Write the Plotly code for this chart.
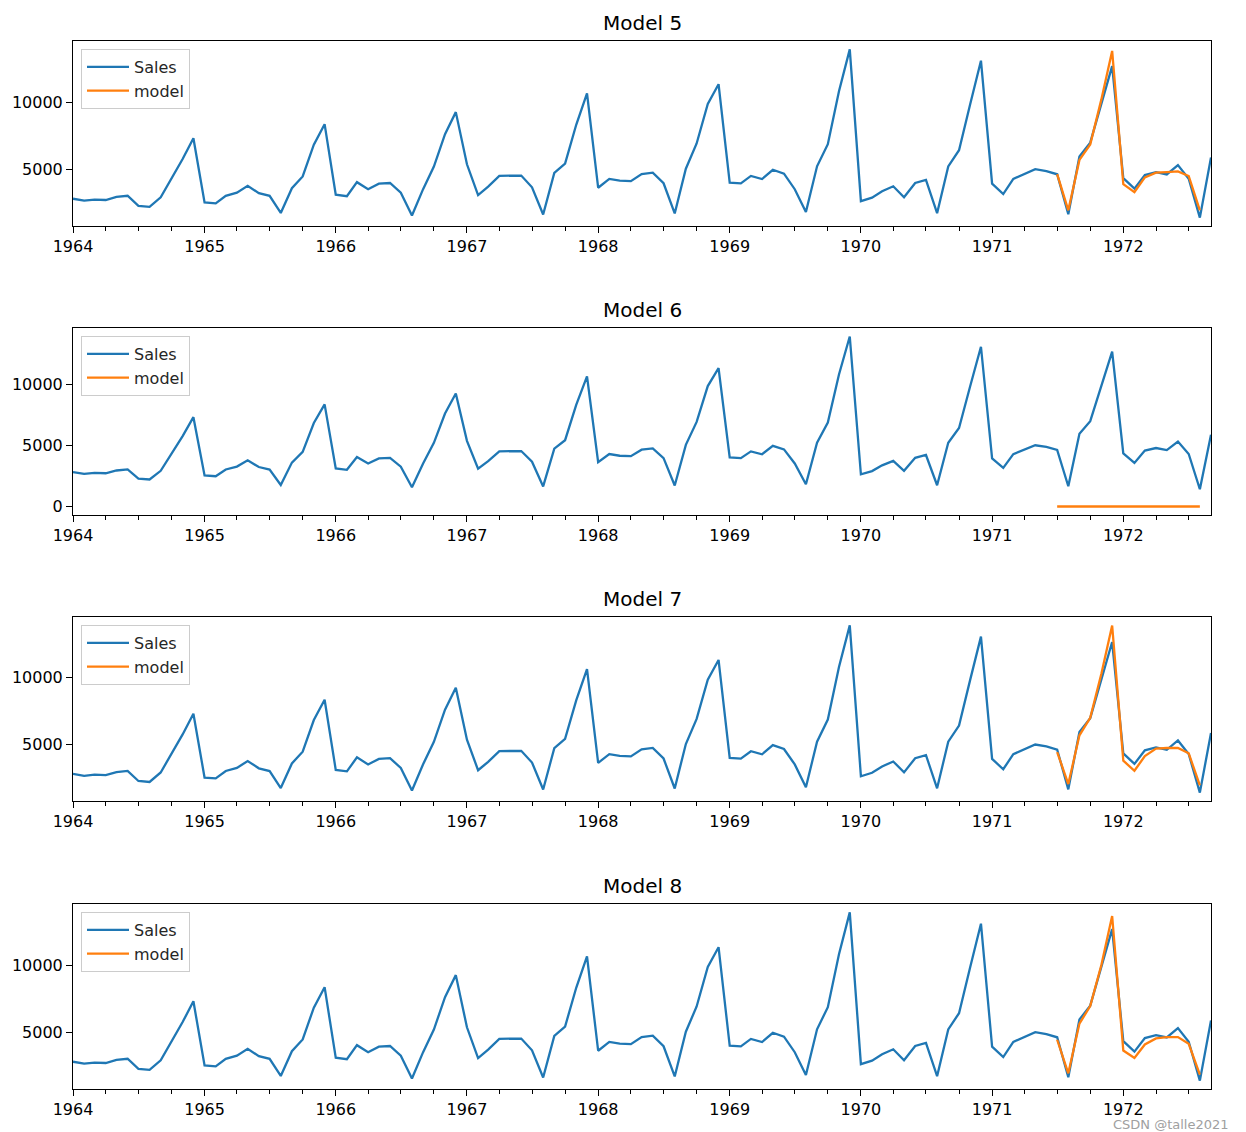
import plotly.graph_objects as go
import pandas as pd

# ---- data ----
months = pd.date_range("1964-01-01", "1972-09-01", freq="MS")
sales = [
    2815, 2672, 2755, 2721, 2946, 3036, 2282, 2212, 2922, 4301, 5764, 7312,
    2541, 2475, 3031, 3266, 3776, 3230, 3028, 1759, 3595, 4474, 6838, 8357,
    3113, 3006, 4047, 3523, 3937, 3986, 3260, 1573, 3528, 5211, 7614, 9254,
    5375, 3088, 3718, 4514, 4520, 4539, 3663, 1643, 4739, 5428, 8314, 10651,
    3633, 4292, 4154, 4121, 4647, 4753, 3965, 1723, 5048, 6922, 9858, 11331,
    4016, 3957, 4510, 4276, 4968, 4677, 3523, 1821, 5222, 6872, 10803, 13916,
    2639, 2899, 3370, 3740, 2927, 3986, 4217, 1738, 5221, 6424, 9842, 13076,
    3934, 3162, 4286, 4676, 5010, 4874, 4633, 1659, 5951, 6981, 9851, 12670,
    4348, 3564, 4577, 4788, 4618, 5312, 4298, 1413, 5877,
]
model_months = pd.date_range("1971-07-01", "1972-08-01", freq="MS")
model5 = [4650, 1950, 5700, 6850, 10200, 13800, 3900, 3300, 4400, 4750, 4800, 4850, 4500, 1950]
model6 = [0, 0, 0, 0, 0, 0, 0, 0, 0, 0, 0, 0, 0, 0]
model7 = [4450, 2050, 5700, 7000, 10300, 13900, 3800, 3050, 4150, 4700, 4750, 4750, 4350, 1950]
model8 = [4450, 1950, 5650, 6950, 10000, 13650, 3650, 3100, 4100, 4550, 4650, 4650, 4150, 1850]
titles = ["Model 5", "Model 6", "Model 7", "Model 8"]
models = [model5, model6, model7, model8]
ytick_sets = [[5000, 10000], [0, 5000, 10000], [5000, 10000], [5000, 10000]]
year_ticks = list(range(1964, 1973))

BLUE = "#1f77b4"
ORANGE = "#ff7f0e"
W, H = 1246, 1132
OFF = 8  # page body margin
# target plot-area pixel edges on the page
PL, PR, PT, PB = 73, 1211, 41, 1089
L = PL - OFF
T = PT - OFF
R = W + OFF - PR
B = H + OFF - PB
panel_px = [(41, 226), (328, 515), (617, 801), (904, 1089)]
plot_h = PB - PT
plot_w = PR - PL

def py(p):
    return (PB - p) / plot_h

def px(p):
    return (p - PL) / plot_w

fig = go.Figure()
layout = dict(
    width=W, height=H,
    margin=dict(l=L, r=R, t=T, b=B, autoexpand=False),
    plot_bgcolor="white", paper_bgcolor="white",
    font=dict(family="DejaVu Sans", size=16, color="black"),
    annotations=[],
)

for i, (title, mdl, yt) in enumerate(zip(titles, models, ytick_sets)):
    n = "" if i == 0 else str(i + 1)
    leg = "legend" + n
    xa = "x" + n
    ya = "y" + n
    fig.add_trace(go.Scatter(x=months, y=sales, mode="lines", name="Sales",
                             line=dict(color=BLUE, width=2.3),
                             xaxis=xa, yaxis=ya, legend=leg))
    fig.add_trace(go.Scatter(x=model_months, y=mdl, mode="lines", name="model",
                             line=dict(color=ORANGE, width=2.3),
                             xaxis=xa, yaxis=ya, legend=leg))
    lo = min(min(sales), min(mdl))
    hi = max(max(sales), max(mdl))
    d = hi - lo
    top, bot = panel_px[i]
    layout["xaxis" + n] = dict(
        domain=[0, 1], anchor=ya, automargin=False,
        range=["1964-01-01", "1972-09-01"],
        tickvals=[f"{y}-01-01" for y in year_ticks],
        ticktext=[str(y) for y in year_ticks],
        ticks="outside", ticklen=6, tickwidth=1, tickcolor="black",
        showline=True, linecolor="black", linewidth=1, mirror=True,
        showgrid=False, zeroline=False,
        minor=dict(dtick="M3", tick0="1964-01-01", ticks="outside", ticklen=3.5,
                   tickcolor="black", showgrid=False),
    )
    layout["yaxis" + n] = dict(
        domain=[py(bot), py(top)], anchor=xa, automargin=False,
        range=[lo - 0.05 * d, hi + 0.05 * d],
        tickvals=yt, ticktext=[str(v) for v in yt],
        ticks="outside", ticklen=6, tickwidth=1, tickcolor="black",
        showline=True, linecolor="black", linewidth=1, mirror=True,
        showgrid=False, zeroline=False,
    )
    layout[leg] = dict(
        x=px(81), y=py(top + 8), xanchor="left", yanchor="top",
        bgcolor="rgba(255,255,255,0.8)", bordercolor="#cccccc", borderwidth=1,
        font=dict(size=16, color="#262626"), tracegroupgap=0, itemwidth=42,
    )
    layout["annotations"].append(dict(
        text=title, x=0.5, y=py(top), xref="paper", yref="paper",
        xanchor="center", yanchor="bottom", yshift=4, showarrow=False,
        font=dict(size=20, color="black"),
    ))

layout["annotations"].append(dict(
    text="CSDN @talle2021", x=px(1231), y=py(1124), xref="paper", yref="paper",
    xanchor="right", yanchor="middle", showarrow=False,
    font=dict(size=13, color="#a0a0a0"),
))

fig.update_layout(**layout)
fig.write_html("out.html")
